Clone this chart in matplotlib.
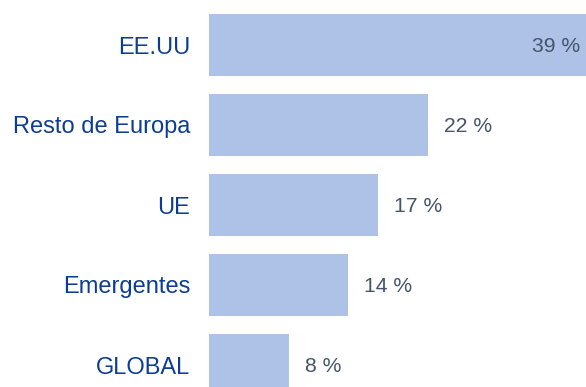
import matplotlib
matplotlib.use("Agg")
import matplotlib.pyplot as plt

# Regional weights (percent)
categories = ["EE.UU", "Resto de Europa", "UE", "Emergentes", "GLOBAL"]
values = [39, 22, 17, 14, 8]
value_labels = ["39 %", "22 %", "17 %", "14 %", "8 %"]

plt.rcParams["font.family"] = ["Liberation Sans", "DejaVu Sans"]

W, H = 586, 387
fig = plt.figure(figsize=(W / 100, H / 100), dpi=100)

# Axes extends past the right and bottom edges of the canvas
left_px, width_px = 209, 398
top_px, height_px = 5, 400
ax = fig.add_axes([left_px / W, (H - top_px - height_px) / H, width_px / W, height_px / H])

bar_color = "#adc2e6"
label_color = "#0d3d91"
value_color = "#44546a"

y = list(range(len(categories)))
ax.barh(y, values, height=0.775, color=bar_color)
ax.set_xlim(0, 40)
ax.set_ylim(len(categories) - 0.5, -0.5)

ax.set_yticks(y)
ax.set_yticklabels(categories, fontsize=17, color=label_color)
ax.tick_params(axis="y", length=0, pad=13.5)
ax.set_xticks([])
for s in ax.spines.values():
    s.set_visible(False)

for i, (v, lab) in enumerate(zip(values, value_labels)):
    if v == max(values):
        ax.annotate(lab, (v, i), xytext=(-12, 0), textcoords="offset points",
                    ha="right", va="center_baseline", fontsize=15.2, color=value_color)
    else:
        ax.annotate(lab, (v, i), xytext=(11.5, 0), textcoords="offset points",
                    ha="left", va="center_baseline", fontsize=15.2, color=value_color)

fig.savefig("out.png", dpi=100)
